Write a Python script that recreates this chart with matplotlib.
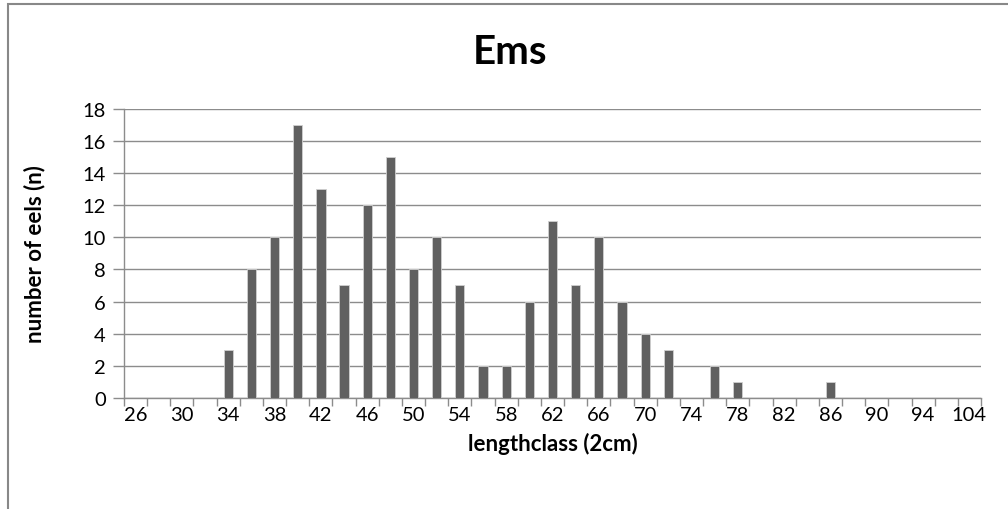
import matplotlib
matplotlib.use("Agg")
import matplotlib.pyplot as plt
from matplotlib.patches import Rectangle
import numpy as np

plt.rcParams['font.family'] = ['Lato', 'DejaVu Sans']

# length classes (2 cm), last class is 104
classes = list(range(26, 97, 2)) + [104]
counts = [0, 0, 0, 0, 3, 8, 10, 17, 13, 7, 12, 15, 8, 10, 7, 2, 2, 6,
          11, 7, 10, 6, 4, 3, 0, 2, 1, 0, 0, 0, 1, 0, 0, 0, 0, 0, 0]
shown = [c for i, c in enumerate(classes) if i % 2 == 0]

fig = plt.figure(figsize=(10.08, 5.10), dpi=100)
ax = fig.add_axes([124 / 1008, 1 - 399 / 510, (981 - 124) / 1008, (399 - 109.5) / 510])

x = np.arange(len(classes))
ax.bar(x, counts, width=0.4, color='#606060', edgecolor='#d0d0d0', linewidth=0.6, zorder=3)

ax.set_xlim(-0.5, len(classes) - 0.5)
ax.set_ylim(0, 18)
ax.set_yticks(range(0, 19, 2))
ax.yaxis.grid(True, color='#8c8c8c', linewidth=1.0, zorder=0)

# ticks at category boundaries, labels every other class
ax.set_xticks(np.arange(len(classes) + 1) - 0.5)
ax.set_xticklabels([])
ax.set_xticks(x[::2], minor=True)
ax.set_xticklabels([str(c) for c in shown], minor=True)
ax.tick_params(axis='x', which='major', direction='out', length=6, color='#8c8c8c', width=1)
ax.tick_params(axis='x', which='minor', length=0, labelsize=14.5, pad=6)
ax.tick_params(axis='y', direction='out', length=8, color='#8c8c8c', width=1, labelsize=14.5, pad=5)

for s in ['top', 'right']:
    ax.spines[s].set_visible(False)
for s in ['left', 'bottom']:
    ax.spines[s].set_color('#8c8c8c')
    ax.spines[s].set_linewidth(1.0)

ax.set_xlabel('lengthclass (2cm)', fontsize=16, fontweight='bold', va='center')
ax.xaxis.set_label_coords(0.5, (399 - 444) / 289.5)
ax.set_ylabel('number of eels (n)', fontsize=16, fontweight='bold', va='center')
ax.yaxis.set_label_coords((35 - 124) / 857, 0.5)
fig.text(0.506, 1 - 53 / 510, 'Ems', ha='center', va='center', fontsize=29, fontweight='bold')

# chart frame
fig.patches.append(Rectangle((8 / 1008, -0.05), 1.2, 1.05 - 5 / 510, transform=fig.transFigure,
                             fill=False, edgecolor='#888888', linewidth=1.5))

fig.savefig('out.png', dpi=100)
